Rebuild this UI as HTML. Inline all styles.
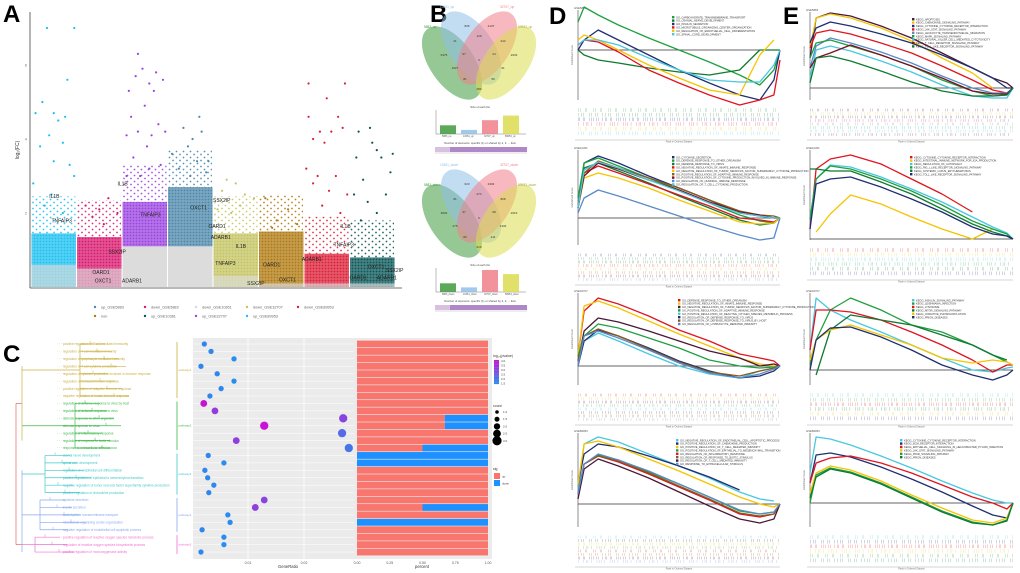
<!DOCTYPE html>
<html><head><meta charset="utf-8">
<style>
html,body{margin:0;padding:0;background:#fff;}
svg{display:block;font-family:"Liberation Sans",sans-serif;}
</style></head>
<body>
<svg id="fig" width="1020" height="573" viewBox="0 0 1020 573" xmlns="http://www.w3.org/2000/svg">
<defs id="defs"></defs>
<text x="3" y="22" font-size="24" font-weight="bold">A</text>
<text x="430" y="22" font-size="24" font-weight="bold">B</text>
<text x="3" y="362" font-size="24" font-weight="bold">C</text>
<text x="549" y="24" font-size="24" font-weight="bold">D</text>
<text x="783" y="24" font-size="24" font-weight="bold">E</text>
<g id="pA"></g>
<g id="pB"></g>
<g id="pC"></g>
<g id="pD"></g>
<g id="pE"></g>
</svg>
<script>
const NS="http://www.w3.org/2000/svg";
function mk(parent,tag,attrs,text){const e=document.createElementNS(NS,tag);for(const k in attrs)e.setAttribute(k,attrs[k]);if(text!==undefined)e.textContent=text;parent.appendChild(e);return e;}

/* ===== Panel A data ===== */
const aGroups=["up_GSE89953","down_GSE5883","up_GSE32707","up_GSE5883","down_GSE32707","non","down_GSE89953","up_GSE10361"];
const aColors=["#1cc0f0","#d81a6e","#9a44e0","#4d88aa","#c4c462","#b07a12","#dc2038","#0b5656"];
const aDenseTop=[1.45,1.35,2.3,2.7,1.45,1.5,0.9,0.8];
const aGreyTop=[0.6,0.5,1.1,1.1,0.3,0.1,0.1,0.1];
const aOutliers=[
[[0.35,7.0],[0.95,7.0],[0.8,5.6],[0.25,5.0],[0.5,4.7],[0.6,4.5],[0.75,4.6],[0.1,4.7],[0.4,4.1],[0.7,3.9],[0.2,3.8],[0.85,3.3],[0.5,3.4],[0.05,2.8],[0.95,3.0],[0.45,2.5],[0.3,2.2],[0.7,2.0]],
[[0.2,2.2],[0.5,2.1],[0.9,2.0],[0.7,2.4],[0.35,1.9],[0.6,1.7]],
[[0.35,6.3],[0.45,5.9],[0.3,5.7],[0.75,5.8],[0.9,5.6],[0.6,5.5],[0.7,5.3],[0.15,5.3],[0.5,4.9],[0.2,4.6],[0.8,4.4],[0.35,4.2],[0.65,4.1],[0.1,4.1],[0.95,4.2],[0.55,3.8],[0.25,3.5],[0.85,3.3],[0.4,3.0],[0.6,3.2],[0.1,3.0]],
[[0.7,4.6],[0.35,4.3],[0.55,4.0],[0.75,4.2],[0.45,3.8],[0.1,3.6],[0.9,3.4],[0.25,3.2],[0.65,3.4],[0.5,3.0],[0.85,3.1]],
[[0.3,2.9],[0.5,2.8],[0.2,2.6],[0.7,2.5],[0.9,2.4],[0.6,2.2],[0.1,2.1],[0.4,2.0]],
[[0.15,2.4],[0.65,2.1],[0.4,1.8],[0.85,1.7],[0.3,1.6]],
[[0.1,5.5],[0.9,5.5],[0.5,5.1],[0.75,4.6],[0.1,4.6],[0.2,4.0],[0.6,4.2],[0.85,4.3],[0.35,4.2],[0.45,3.9],[0.3,3.0],[0.7,3.0],[0.05,3.2],[0.55,2.6],[0.95,2.5],[0.4,2.2],[0.2,2.8],[0.8,2.0]],
[[0.2,4.2],[0.45,4.3],[0.5,3.9],[0.6,3.7],[0.7,3.5],[0.15,3.5],[0.9,3.1],[0.3,2.9],[0.95,3.6],[0.1,2.5],[0.8,2.5],[0.4,2.3],[0.6,2.0],[0.25,1.8]]
];
const aYTicks=[2,4,6];
const aGeneLabels=[[0,0.4,2.4,"IL1B"],[0,0.45,1.75,"TNFAIP3"],[1,0.7,0.9,"SSX2IP"],[1,0.35,0.35,"OARD1"],[1,0.4,0.12,"OXCT1"],[1,1.0,0.12,"ADARB1"],[2,-0.1,2.75,"IL1B"],[2,0.4,1.9,"TNFAIP3"],[3,0.5,2.1,"OXCT1"],[3,1.0,2.3,"SSX2IP"],[3,0.9,1.6,"OARD1"],[3,0.95,1.3,"ADARB1"],[4,0.5,1.05,"IL1B"],[4,0.05,0.6,"TNFAIP3"],[4,0.75,0.05,"SSX2IP"],[5,0.1,0.55,"OARD1"],[5,0.45,0.15,"OXCT1"],[6,-0.05,0.7,"ADARB1"],[6,0.8,1.6,"IL1B"],[6,0.65,1.1,"TNFAIP3"],[7,0.4,0.5,"OXCT1"],[7,0.8,0.4,"SSX2IP"],[7,0.0,0.2,"OARD1"],[7,0.6,0.2,"ADARB1"]];
const aLegend=["up_GSE5883","down_GSE5883","down_GSE10361","down_GSE32707","down_GSE89953","non","up_GSE10361","up_GSE32707","up_GSE89953"];
const aLegendColors=["#4d88aa","#d81a6e","#d8d8d8","#c4c462","#dc2038","#b07a12","#0b5656","#9a44e0","#1cc0f0"];

(function(){
 const g=document.getElementById('pA');
 const defs=document.getElementById('defs');
 const x0=31,x1=395,yBase=287,yPer=37;
 const cw=(x1-x0)/aGroups.length;
 const Y=v=>yBase-v*yPer;
 aColors.forEach((c,i)=>{
  const p=mk(defs,'pattern',{id:'dots'+i,width:7,height:6,patternUnits:'userSpaceOnUse'});
  mk(p,'circle',{cx:1.5,cy:1.5,r:0.9,fill:c});
  mk(p,'circle',{cx:5,cy:4.5,r:0.9,fill:c});
  const q=mk(defs,'pattern',{id:'dense'+i,width:3,height:3,patternUnits:'userSpaceOnUse'});
  mk(q,'rect',{x:0,y:0,width:3,height:3,fill:c,opacity:0.75});
  mk(q,'circle',{cx:1.5,cy:1.5,r:0.9,fill:c});
 });
 mk(g,'line',{x1:30,y1:12,x2:30,y2:288,stroke:'#444','stroke-width':0.8});
 mk(g,'line',{x1:30,y1:288,x2:402,y2:288,stroke:'#444','stroke-width':0.8});
 aYTicks.forEach(t=>{const tk=mk(g,'text',{x:27,y:Y(t)+1.5,'font-size':4,fill:'#777','text-anchor':'end'},t);
  });
 const yl=mk(g,'text',{x:0,y:0,'font-size':5,fill:'#333',transform:'translate(19,150) rotate(-90)','text-anchor':'middle'},'log₂(FC)');
 
 aGroups.forEach((name,i)=>{
  const cx=x0+i*cw;
  const grp=mk(g,'g',{});
  
  mk(grp,'rect',{x:cx+1,y:Y(aDenseTop[i]+1.0),width:cw-2,height:1.0*yPer,fill:'url(#dots'+i+')',opacity:0.9});
  mk(grp,'rect',{x:cx+0.5,y:Y(aDenseTop[i]),width:cw-1,height:aDenseTop[i]*yPer,fill:'url(#dense'+i+')'});
  if(aGreyTop[i]>0) mk(grp,'rect',{x:cx+0.5,y:Y(aGreyTop[i]),width:cw-1,height:aGreyTop[i]*yPer,fill:'#dcdcdc',opacity:i==2||i==3?1:0.65});
  aOutliers[i].forEach(p=>{const c=mk(grp,'circle',{cx:cx+p[0]*cw,cy:Y(p[1]),r:1.1,fill:aColors[i]});
   });
 });
 aGeneLabels.forEach(l=>{const t=mk(g,'text',{x:x0+(l[0]+l[1])*cw,y:Y(l[2]),'font-size':5,fill:'#222'},l[3]);
  });
 const lx=[95,145,196,247,298];
 aLegend.forEach((n,i)=>{const r=i<5?0:1,c=i<5?i:i-5;
  const e=mk(g,'g',{});
  mk(e,'circle',{cx:lx[c],cy:307+r*9,r:1.2,fill:aLegendColors[i]});
  mk(e,'text',{x:lx[c]+6,y:308.5+r*9,'font-size':3.8,fill:'#666'},n);});
})();

/* ===== Panel B data ===== */
const vennSets=["5883","10361","32707","89953"];
const vennColors=["#3f9a3f","#8fbfe8","#f0808a","#dcdc50"];
const vennUpCounts=["6375","835","2137","2933","21","129","243","97","24","91","1527","81","59","280","2"];
const vennDownCounts=["3832","623","2303","2619","81","274","868","37","68","1332","275","83","211","219","6"];
const sizeUp=[1700,800,2700,3600];
const sizeDown=[1700,900,4300,3500];
(function(){
 const g=document.getElementById('pB');
 const pos=[[-35,-3],[-12,-32],[12,-32],[35,-3],[-24,-17],[0,-22],[24,-17],[-15,-4],[15,-4],[24,10],[-24,10],[-14,21],[14,21],[0,31],[0,2]];
 function venn(cy,counts,suffix,sizes,top){
  const cx=479;
  const ell=[[cx-27,cy+5,55],[cx-8,cy-10,55],[cx+8,cy-10,-55],[cx+27,cy+5,-55]];
  ell.forEach((e,i)=>{const el=mk(g,'ellipse',{cx:0,cy:0,rx:42,ry:22,fill:vennColors[i],'fill-opacity':0.55,stroke:'none',transform:`translate(${e[0]},${e[1]}) rotate(${e[2]})`});
   });
  const labs=[[424,cy-30],[440,cy-50],[500,cy-50],[518,cy-30]];
  labs.forEach((p,i)=>mk(g,'text',{x:p[0],y:p[1],'font-size':3.2,fill:vennColors[i]==="#dcdc50"?"#aaa838":vennColors[i]},vennSets[i]+suffix));
  counts.forEach((c,i)=>{const t=mk(g,'text',{x:cx+pos[i][0],y:cy+pos[i][1]+1,'font-size':3,fill:'#333','text-anchor':'middle'},c);
   });
  const by=top, bh=24;
  mk(g,'text',{x:480,y:by-2,'font-size':2.8,fill:'#444','text-anchor':'middle'},'Size of each list');
  mk(g,'line',{x1:436,y1:by+bh,x2:526,y2:by+bh,stroke:'#555','stroke-width':0.4});
  mk(g,'line',{x1:436,y1:by,x2:436,y2:by+bh,stroke:'#555','stroke-width':0.4});
  const mx=Math.max(...sizeUp,...sizeDown);
  sizes.forEach((s,i)=>{const h=s/mx*22;const r=mk(g,'rect',{x:440+i*21,y:by+bh-h,width:16,height:h,fill:vennColors[i],opacity:0.85});
   
   mk(g,'text',{x:442+i*21,y:by+bh+3,'font-size':2.4,fill:'#555'},vennSets[i]+suffix);});
  mk(g,'text',{x:480,y:by+bh+10,'font-size':2.8,fill:'#444','text-anchor':'middle'},'Number of elements: specific (1) or shared by 2, 3, ... lists');
  mk(g,'rect',{x:435,y:by+bh+13,width:92,height:5,fill:'#b088c8'});
  mk(g,'rect',{x:435,y:by+bh+13,width:15,height:5,fill:'#d8c0e0'});
  mk(g,'line',{x1:435,y1:by+bh+19,x2:527,y2:by+bh+19,stroke:'#888','stroke-width':0.3});
 }
 venn(58,vennUpCounts,'_up',sizeUp,110);
 venn(216,vennDownCounts,'_down',sizeDown,268);
})();

/* ===== Panel C data ===== */
const cTerms=["positive regulation of T cell mediated immunity","regulation of T cell mediated immunity","regulation of lymphocyte mediated immunity","regulation of T cell cytokine production","regulation of cytokine production involved in immune response","regulation of humoral immune response","positive regulation of adaptive immune response","negative regulation of innate immune response","regulation of defense response to virus by host","regulation of defense response to virus","defense response to other organism","defense response to virus","regulation of inflammatory response","regulation of response to biotic stimulus","response to extracellular stimulus","cranial nerve development","spinal cord development","regulation of endothelial cell differentiation","positive regulation of epithelial to mesenchymal transition","negative regulation of tumor necrosis factor superfamily cytokine production","positive regulation of chemokine production","cytokine secretion","insulin secretion","carbohydrate transmembrane transport","microtubule organizing center organization","negative regulation of endothelial cell apoptotic process","positive regulation of reactive oxygen species metabolic process","regulation of reactive oxygen species biosynthetic process","positive regulation of monooxygenase activity"];
const cPathway=[1,1,1,1,1,1,1,1,2,2,2,2,2,2,2,3,3,3,3,3,3,4,4,4,4,4,5,5,5];
const cGeneRatio=[0.0022,0.0034,0.0075,0.0016,0.0045,0.0075,0.0052,0.0032,0.0021,0.0041,0.0270,0.0129,0.0268,0.0079,0.0280,0.0029,0.0057,0.0023,0.0028,0.0039,0.0030,0.0129,0.0113,0.0064,0.0068,0.0018,0.0057,0.0057,0.0016];
const cLogP=[1.6,1.6,1.5,1.6,1.6,1.5,1.6,1.6,4.0,3.2,3.0,4.1,2.2,3.1,2.0,1.6,1.5,1.6,1.6,1.6,1.6,3.0,3.1,1.5,1.5,1.6,1.5,1.5,1.6];
const cCount=[1,1,1,1,1,1,1,1,2,2,3,3,3,2,3,1,1,1,1,1,1,2,2,1,1,1,1,1,1];
const cUpFrac=[1,1,1,1,1,1,1,1,1,1,0.67,0.67,1,1,0.5,0,0,1,1,1,1,1,0.5,1,0,1,1,1,1];
const cRatioTicks=[0.01,0.02];
const cPctTicks=["0.00","0.25","0.50","0.75","1.00"];
const cPathColors=["#c8b040","#3cb84a","#40c8c8","#88a8f0","#f070d0"];
(function(){
 const g=document.getElementById('pC');
 const rowY=i=>344+i*7.43;
 const n=cTerms.length;
 const dx0=193,dx1=354,top=338,bot=559;
 mk(g,'rect',{x:dx0,y:top,width:dx1-dx0,height:bot-top,fill:'#ebebeb'});
 const X=r=>192+r*5600;
 cRatioTicks.forEach(t=>{mk(g,'line',{x1:X(t),y1:top,x2:X(t),y2:bot,stroke:'#fff','stroke-width':0.8});
  mk(g,'text',{x:X(t),y:bot+5,'font-size':3.5,fill:'#555','text-anchor':'middle'},t);});
 for(let i=0;i<n;i++) mk(g,'line',{x1:dx0,y1:rowY(i),x2:dx1,y2:rowY(i),stroke:'#fff','stroke-width':0.5});
 const pcol=v=>{const t=Math.min(1,Math.max(0,(v-1.5)/2.5));const r=Math.round(40+t*(200-40)),gg=Math.round(140-t*(140-20)),b=Math.round(240-t*(240-210));return `rgb(${r},${gg},${b})`;};
 cGeneRatio.forEach((r,i)=>{const c=mk(g,'circle',{cx:X(r),cy:rowY(i),r:1.9+cCount[i]*0.75,fill:pcol(cLogP[i])});
  });
 mk(g,'text',{x:288,y:568,'font-size':4.2,fill:'#333','text-anchor':'middle'},'GeneRatio');
 const bx0=354,bx1=492,px0=357,px1=488;
 mk(g,'rect',{x:bx0,y:top,width:bx1-bx0,height:bot-top,fill:'#ebebeb'});
 const P=f=>px0+f*(px1-px0);
 cUpFrac.forEach((f,i)=>{
  const u=mk(g,'rect',{x:P(0),y:rowY(i)-3.4,width:P(f)-P(0),height:6.8,fill:'#f8766d'});
  
  const d=mk(g,'rect',{x:P(f),y:rowY(i)-3.4,width:P(1)-P(f),height:6.8,fill:'#1e90ff'});
  });
 cPctTicks.forEach((t,i)=>mk(g,'text',{x:P(i/4),y:bot+5,'font-size':3.5,fill:'#555','text-anchor':'middle'},t));
 mk(g,'text',{x:422,y:568,'font-size':4.2,fill:'#333','text-anchor':'middle'},'percent');
 const gx=[95,90,60,55,50];
 [1,2,3,4,5].forEach((p,k)=>{
  const idx=[];cPathway.forEach((q,i)=>{if(q===p)idx.push(i);});
  const col=cPathColors[k];
  const vx=gx[k]-15;
  mk(g,'line',{x1:vx,y1:rowY(idx[0]),x2:vx,y2:rowY(idx[idx.length-1]),stroke:col,'stroke-width':0.7});
  idx.forEach((i,j)=>{const sx=vx+10+((j*7)%25);
   mk(g,'line',{x1:vx,y1:rowY(i),x2:sx+15,y2:rowY(i),stroke:col,'stroke-width':0.7});
   mk(g,'line',{x1:sx,y1:rowY(i)-3,x2:sx,y2:rowY(i),stroke:col,'stroke-width':0.5});
   const t=mk(g,'text',{x:57,y:rowY(i)+1.2,'font-size':3.2,fill:col},'· · · '+cTerms[i]);
   });
  mk(g,'line',{x1:177,y1:rowY(idx[0])-2,x2:177,y2:rowY(idx[idx.length-1])+2,stroke:col,'stroke-width':0.8});
  const my=(rowY(idx[0])+rowY(idx[idx.length-1]))/2;
  mk(g,'text',{x:178.5,y:my+1,'font-size':3,fill:col},'pathway'+p);
  mk(g,'line',{x1:22,y1:my,x2:vx,y2:my,stroke:col,'stroke-width':0.7});
 });
 mk(g,'line',{x1:16,y1:rowY(8),x2:16,y2:rowY(27),stroke:'#f06060','stroke-width':0.7});
 mk(g,'line',{x1:16,y1:rowY(8),x2:22,y2:rowY(8),stroke:'#f06060','stroke-width':0.7});
 mk(g,'line',{x1:16,y1:rowY(27),x2:22,y2:rowY(27),stroke:'#f06060','stroke-width':0.7});
 mk(g,'line',{x1:22,y1:rowY(3),x2:22,y2:rowY(13),stroke:'#c8b040','stroke-width':0.7});
 mk(g,'line',{x1:22,y1:rowY(17),x2:22,y2:rowY(28),stroke:'#88a8f0','stroke-width':0.7});
 mk(g,'text',{x:493,y:357,'font-size':3.5,fill:'#333'},'log₁₀(pvalue)');
 for(let i=0;i<20;i++) mk(g,'rect',{x:494,y:360+i*1.2,width:5,height:1.3,fill:pcol(4.0-i*2.5/19)});
 ['4.0','3.5','3.0','2.5','2.0','1.5'].forEach((t,i)=>mk(g,'text',{x:501,y:362+i*4.5,'font-size':3,fill:'#444'},t));
 mk(g,'text',{x:493,y:407,'font-size':3.5,fill:'#333'},'count');
 ['1.0','1.5','2.0','2.5','3.0'].forEach((t,i)=>{mk(g,'circle',{cx:497,cy:412+i*7.2,r:1.8+i*0.7,fill:'#000'});mk(g,'text',{x:503,y:413+i*7.2,'font-size':3,fill:'#444'},t);});
 mk(g,'text',{x:493,y:470,'font-size':3.5,fill:'#333'},'sig');
 mk(g,'rect',{x:494,y:473,width:6,height:6,fill:'#f8766d'});mk(g,'text',{x:502,y:477.5,'font-size':3,fill:'#444'},'up');
 mk(g,'rect',{x:494,y:480,width:6,height:6,fill:'#1e90ff'});mk(g,'text',{x:502,y:484.5,'font-size':3,fill:'#444'},'down');
})();

/* ===== Panels D/E data ===== */
const gseaRanks=[0,0.03,0.1,0.2,0.35,0.5,0.65,0.8,0.9,0.97,1];
const colNavy="#1f2f70",colRed="#e01420",colGold="#f5c400",colGreen="#1fa040",colDkGreen="#0f7a30",colCyan="#48c8e0",colDkRed="#7a1020",colSteel="#5a8ac8",colBrown="#8b5a20",colMaroon="#4a1838";
const d1Series=[[.28,.43,.35,.25,.12,0,-.12,-.25,-.35,-.2,0],[0,-.05,-.1,-.13,-.18,-.22,-.25,-.2,0,0,0],[0,.1,.2,.1,-.05,-.2,-.33,-.45,-.5,-.3,0],[.05,.1,.08,-.02,-.2,-.33,-.45,-.55,-.5,-.45,-.1],[.1,.15,.1,0,-.15,-.28,-.4,-.45,-.05,.1,null],[.05,.1,.1,.05,-.08,-.2,-.3,-.32,-.32,-.15,0]];
const d1Colors=[colGreen,colDkGreen,colNavy,colRed,colGold,colCyan];
const d1Names=["GO_CARBOHYDRATE_TRANSMEMBRANE_TRANSPORT","GO_CRANIAL_NERVE_DEVELOPMENT","GO_INSULIN_SECRETION","GO_MICROTUBULE_ORGANIZING_CENTER_ORGANIZATION","GO_REGULATION_OF_ENDOTHELIAL_CELL_DIFFERENTIATION","GO_SPINAL_CORD_DEVELOPMENT"];
const d2Series=[[.1,.55,.62,.55,.42,.3,.18,.05,.02,0,0],[.2,.55,.6,.52,.4,.28,.15,.03,-.03,-.05,0],[.1,.5,.55,.47,.35,.22,.1,-.02,-.07,-.05,0],[.1,.45,.52,.45,.34,.23,.12,0,-.02,-.04,0],[.1,.4,.45,.4,.3,.18,.07,-.04,-.06,-.05,0],[.1,.45,.57,.5,.4,.3,.18,.07,.03,.02,0],[.1,.42,.55,.49,.38,.28,.16,.06,.03,0,0],[.05,.2,.28,.22,.12,.02,-.08,-.17,-.22,-.2,0],[.1,.48,.56,.5,.38,.27,.15,.05,.02,0,0]];
const d2Colors=[colNavy,colGreen,colDkGreen,colRed,colGold,colBrown,colDkRed,colSteel,colCyan];
const d2Names=["GO_CYTOKINE_SECRETION","GO_DEFENSE_RESPONSE_TO_OTHER_ORGANISM","GO_DEFENSE_RESPONSE_TO_VIRUS","GO_NEGATIVE_REGULATION_OF_INNATE_IMMUNE_RESPONSE","GO_NEGATIVE_REGULATION_OF_TUMOR_NECROSIS_FACTOR_SUPERFAMILY_CYTOKINE_PRODUCTION","GO_POSITIVE_REGULATION_OF_ADAPTIVE_IMMUNE_RESPONSE","GO_POSITIVE_REGULATION_OF_CYTOKINE_PRODUCTION_INVOLVED_IN_IMMUNE_RESPONSE","GO_REGULATION_OF_HUMORAL_IMMUNE_RESPONSE","GO_REGULATION_OF_T_CELL_CYTOKINE_PRODUCTION"];
const d3Series=[[.1,.55,.68,.62,.5,.36,.25,.12,.08,.05,0],[.1,.6,.65,.58,.45,.32,.2,.08,.02,0,0],[.05,.35,.48,.44,.35,.25,.15,.08,0,.02,0],[.1,.3,.42,.38,.28,.18,.06,0,-.02,-.01,0],[0,.25,.33,.25,.12,0,-.08,-.12,-.05,-.02,0],[0,.25,.36,.3,.18,.05,-.05,-.12,-.1,-.05,0],[.05,.3,.37,.3,.17,.04,-.06,-.1,-.05,-.02,0],[0,.3,.35,.28,.16,.03,-.07,-.12,-.08,-.03,0]];
const d3Colors=[colRed,colGold,colMaroon,colGreen,colCyan,colNavy,colBrown,colSteel];
const d3Names=["GO_DEFENSE_RESPONSE_TO_OTHER_ORGANISM","GO_NEGATIVE_REGULATION_OF_INNATE_IMMUNE_RESPONSE","GO_NEGATIVE_REGULATION_OF_TUMOR_NECROSIS_FACTOR_SUPERFAMILY_CYTOKINE_PRODUCTION","GO_POSITIVE_REGULATION_OF_ADAPTIVE_IMMUNE_RESPONSE","GO_POSITIVE_REGULATION_OF_REACTIVE_OXYGEN_SPECIES_METABOLIC_PROCESS","GO_REGULATION_OF_DEFENSE_RESPONSE_TO_VIRUS","GO_REGULATION_OF_DEFENSE_RESPONSE_TO_VIRUS_BY_HOST","GO_REGULATION_OF_LYMPHOCYTE_MEDIATED_IMMUNITY"];
const d4Series=[[.1,.6,.67,.62,.5,.38,.26,.12,.05,.03,null],[.2,.5,.6,.57,.48,.38,.27,.14,null,null,null],[.2,.6,.63,.57,.45,.33,.2,.07,0,-.03,0],[.1,.4,.49,.44,.32,.2,.07,-.07,-.1,-.08,0],[.1,.4,.48,.42,.3,.17,.04,-.1,-.13,-.1,0],[.1,.4,.48,.43,.31,.18,.05,-.09,-.12,-.1,0],[.05,.35,.45,.38,.26,.12,-.02,-.15,-.19,-.15,0],[.1,.4,.5,.44,.33,.2,.07,-.06,-.1,-.08,0]];
const d4Colors=[colCyan,colNavy,colGold,colGreen,colRed,colBrown,colMaroon,colSteel];
const d4Names=["GO_NEGATIVE_REGULATION_OF_ENDOTHELIAL_CELL_APOPTOTIC_PROCESS","GO_POSITIVE_REGULATION_OF_CHEMOKINE_PRODUCTION","GO_POSITIVE_REGULATION_OF_T_CELL_MEDIATED_IMMUNITY","GO_POSITIVE_REGULATION_OF_EPITHELIAL_TO_MESENCHYMAL_TRANSITION","GO_REGULATION_OF_INFLAMMATORY_RESPONSE","GO_REGULATION_OF_RESPONSE_TO_BIOTIC_STIMULUS","GO_REGULATION_OF_T_CELL_MEDIATED_IMMUNITY","GO_RESPONSE_TO_EXTRACELLULAR_STIMULUS"];
const e1Series=[[.3,.7,.75,.72,.62,.5,.35,.2,.1,.05,0],[.4,.7,.74,.7,.6,.47,.3,.15,0,null,null],[.45,.6,.66,.62,.54,.45,.33,.2,.1,0,0],[.4,.55,.58,.54,.45,.35,.22,.08,-.02,-.05,0],[.2,.42,.5,.45,.36,.25,.12,0,-.05,-.05,0],[.3,.45,.48,.42,.33,.22,.08,-.03,-.08,-.07,0],[.1,.38,.42,.37,.27,.16,.03,-.08,-.1,-.1,0],[.2,.3,.35,.43,.33,.22,.1,-.03,-.06,-.06,0],[.05,.3,.32,.27,.17,.06,-.03,-.08,-.08,-.07,0]];
const e1Colors=[colMaroon,colGold,colNavy,colRed,colSteel,colGreen,colCyan,colDkRed,colDkGreen];
const e1Names=["KEGG_APOPTOSIS","KEGG_CHEMOKINE_SIGNALING_PATHWAY","KEGG_CYTOKINE_CYTOKINE_RECEPTOR_INTERACTION","KEGG_JAK_STAT_SIGNALING_PATHWAY","KEGG_LEUKOCYTE_TRANSENDOTHELIAL_MIGRATION","KEGG_MAPK_SIGNALING_PATHWAY","KEGG_NATURAL_KILLER_CELL_MEDIATED_CYTOTOXICITY","KEGG_T_CELL_RECEPTOR_SIGNALING_PATHWAY","KEGG_TOLL_LIKE_RECEPTOR_SIGNALING_PATHWAY"];
const e2Series=[[.1,.7,.8,.84,.75,.6,.45,.27,null,null,null],[null,.07,.25,.44,.35,.22,.1,0,.1,null,null],[.2,.6,.74,.72,.62,.5,.37,.22,.12,.06,0],[.2,.6,.73,.7,.6,.48,.34,.18,.1,.05,0],[.7,.7,.68,.68,.57,.45,.3,.15,.07,.03,0],[.1,.55,.6,.62,.52,.4,.27,.12,.05,.03,0]];
const e2Colors=[colRed,colGold,colCyan,colGreen,colDkGreen,colNavy];
const e2Names=["KEGG_CYTOKINE_CYTOKINE_RECEPTOR_INTERACTION","KEGG_INTESTINAL_IMMUNE_NETWORK_FOR_IGA_PRODUCTION","KEGG_REGULATION_OF_AUTOPHAGY","KEGG_RIG_I_LIKE_RECEPTOR_SIGNALING_PATHWAY","KEGG_SYSTEMIC_LUPUS_ERYTHEMATOSUS","KEGG_TOLL_LIKE_RECEPTOR_SIGNALING_PATHWAY"];
const e3Series=[[.2,.72,.6,.5,.38,.25,.12,0,-.02,.02,.03],[.05,.3,.6,.72,.6,.45,.38,.25,.15,.08,null],[.2,.6,.6,.58,.5,.38,.25,.1,-.02,.05,.05],[null,-.05,.4,.55,.5,.45,.35,.25,.15,.1,null],[.1,.3,.4,.45,.35,.25,.12,.07,.1,.08,.05],[0,.3,.42,.43,.33,.2,.05,-.05,-.1,-.05,0]];
const e3Colors=[colCyan,colGreen,colRed,colDkGreen,colGold,colNavy];
const e3Names=["KEGG_INSULIN_SIGNALING_PATHWAY","KEGG_LEISHMANIA_INFECTION","KEGG_LYSOSOME","KEGG_MTOR_SIGNALING_PATHWAY","KEGG_OXIDATIVE_PHOSPHORYLATION","KEGG_PRION_DISEASES"];
const e4Series=[[.3,.66,.64,.58,.47,.35,.22,.1,.03,0,0],[.2,.48,.5,.46,.36,.24,.11,-.03,-.12,-.15,0],[.2,.4,.45,.47,.4,.3,.18,.06,0,-.06,0],[.1,.3,.37,.33,.22,.08,-.05,-.17,-.2,-.15,0],[0,.28,.35,.31,.2,.06,-.08,-.19,-.22,-.17,0],[.05,.26,.34,.3,.19,.05,-.09,-.2,-.22,-.18,0]];
const e4Colors=[colCyan,colNavy,colRed,colGold,colGreen,colDkGreen];
const e4Names=["KEGG_CYTOKINE_CYTOKINE_RECEPTOR_INTERACTION","KEGG_ECM_RECEPTOR_INTERACTION","KEGG_EPITHELIAL_CELL_SIGNALING_IN_HELICOBACTER_PYLORI_INFECTION","KEGG_JAK_STAT_SIGNALING_PATHWAY","KEGG_PPAR_SIGNALING_PATHWAY","KEGG_PRION_DISEASES"];

function gsea(gid,name,x0,x1,yTop,yZero,yBot,series,colors,names,legX,title){
 const g=mk(document.getElementById(gid),'g',{});
 
 const X=r=>x0+r*(x1-x0);
 const Y=v=>yZero-v*100;
 mk(g,'text',{x:x0-4,y:yTop-1,'font-size':2.8,fill:'#555'},title);
 mk(g,'line',{x1:x0,y1:yTop,x2:x0,y2:yBot,stroke:'#444','stroke-width':0.6});
 mk(g,'line',{x1:x0,y1:yZero,x2:x1,y2:yZero,stroke:'#333','stroke-width':0.7});
 mk(g,'text',{x:0,y:0,'font-size':2.5,fill:'#666',transform:`translate(${x0-5},${(yTop+yBot)/2}) rotate(-90)`,'text-anchor':'middle'},'Enrichment Score');
 series.forEach((s,i)=>{
  let d='';s.forEach((v,j)=>{if(v===null)return;d+=(d?'L':'M')+X(gseaRanks[j]).toFixed(1)+','+Y(v).toFixed(1);});
  const p=mk(g,'path',{d:d,fill:'none',stroke:colors[i],'stroke-width':1.3,'stroke-linejoin':'round'});
  
 });
 names.forEach((n,i)=>{const e=mk(g,'g',{});
  mk(e,'rect',{x:legX,y:yTop+6+i*3.4,width:2.4,height:2.4,fill:colors[i]});
  mk(e,'text',{x:legX+4,y:yTop+8.3+i*3.4,'font-size':2.6,fill:'#333'},n);});
 const by=yBot+10;
 const pats=["0.5,2,0.5,4,0.5,1,0.5,6","0.5,3,0.5,1.5,0.5,5,0.5,2","0.5,1,0.5,3,0.5,1,0.5,4,0.5,2","0.5,5,0.5,2,0.5,1.2,0.5,3"];
 const rows=Math.min(colors.length,8);
 colors.forEach((c,i)=>{if(i>=rows)return;
  const yy=by+i*(28/rows);
  const l=mk(g,'line',{x1:x0,y1:yy,x2:x1,y2:yy,stroke:c,'stroke-width':Math.max(2,22/rows),'stroke-opacity':0.4,'stroke-dasharray':pats[i%4]});
  });
 mk(g,'line',{x1:x0-3,y1:by+30,x2:x1,y2:by+30,stroke:'#aaa','stroke-width':0.5});
 mk(g,'text',{x:(x0+x1)/2,y:by+32.5,'font-size':2.4,fill:'#777','text-anchor':'middle'},'Rank in Ordered Dataset');
}
gsea('pD','gsea-d1',578,780,10,50,100,d1Series,d1Colors,d1Names,672,'GSE5883');
gsea('pD','gsea-d2',578,780,150,218,245,d2Series,d2Colors,d2Names,672,'GSE10361');
gsea('pD','gsea-d3',578,780,293,366,385,d3Series,d3Colors,d3Names,678,'GSE32707');
gsea('pD','gsea-d4',578,780,433,504,527,d4Series,d4Colors,d4Names,676,'GSE89953');
gsea('pE','gsea-e1',810,1013,12,88,100,e1Series,e1Colors,e1Names,912,'GSE5883');
gsea('pE','gsea-e2',810,1013,150,239,240,e2Series,e2Colors,e2Names,910,'GSE10361');
gsea('pE','gsea-e3',810,1013,293,370,385,e3Series,e3Colors,e3Names,912,'GSE32707');
gsea('pE','gsea-e4',810,1013,433,503,527,e4Series,e4Colors,e4Names,900,'GSE89953');
</script>
</body></html>
